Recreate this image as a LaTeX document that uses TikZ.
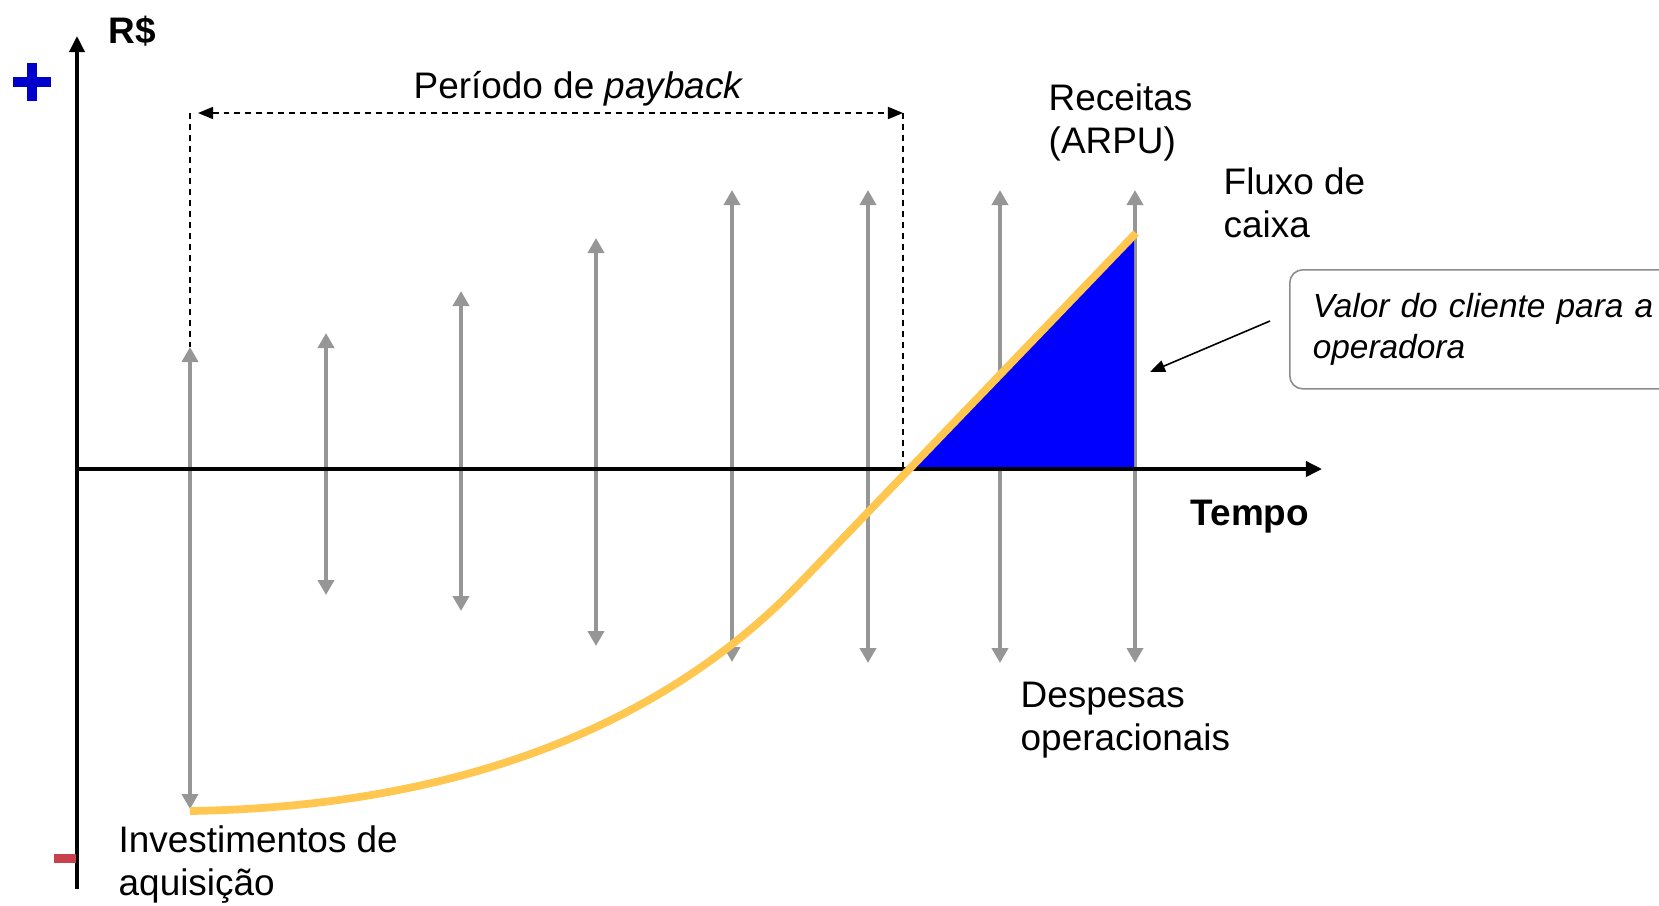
\documentclass[tikz,border=0pt]{standalone}
\usepackage{fontspec}
\setmainfont{Liberation Sans}
\usepackage{tikz}
\usetikzlibrary{arrows.meta}
\definecolor{flowgray}{RGB}{150,150,150}
\definecolor{cashyellow}{RGB}{255,198,80}
\definecolor{valueblue}{RGB}{0,0,255}
\definecolor{plusblue}{RGB}{0,0,204}
\definecolor{minusred}{RGB}{200,64,75}
\definecolor{boxgray}{RGB}{140,140,140}

\begin{document}
\begin{tikzpicture}[x=0.01cm, y=-0.01cm,
	font=\fontsize{10.5}{12.2}\selectfont,
	lbl/.style={anchor=base west, inner sep=0pt, align=left},
	lblbold/.style={lbl, font=\fontsize{10.5}{12.2}\selectfont\bfseries},
	flow/.style={draw=flowgray, line width=1.15pt, {Triangle[length=0.15cm,width=0.16cm]}-{Triangle[length=0.15cm,width=0.16cm]}},
	axis/.style={line width=1pt, -{Triangle[length=0.16cm,width=0.15cm]}},
	pay/.style={line width=0.45pt, dash pattern=on 1.7pt off 1.4pt},
	cash/.style={draw=cashyellow, line width=2.2pt, line join=round},
	ptr/.style={line width=0.45pt, -{Triangle[length=0.15cm,width=0.12cm]}}]
	\useasboundingbox (0,0) rectangle (1659,905);

	% payback period
	\coordinate (payL) at (190,113);
	\coordinate (payR) at (903,113);
	\coordinate (payRb) at (903,469);
	\coordinate (up1) at (190,347);
	\draw[pay] (payL) -- (up1);
	\draw[pay] (payR) -- (payRb);
	\draw[pay, {Triangle[length=0.15cm,width=0.12cm]}-{Triangle[length=0.15cm,width=0.12cm]}, shorten <=0.08cm] (payL) -- (payR);

	% receitas / despesas
	\coordinate (dn1) at (190,809);
	\draw[flow] (up1) -- (dn1);
	\coordinate (up2) at (326,333);
	\coordinate (dn2) at (326,595);
	\draw[flow] (up2) -- (dn2);
	\coordinate (up3) at (461,291);
	\coordinate (dn3) at (461,611);
	\draw[flow] (up3) -- (dn3);
	\coordinate (up4) at (596,238);
	\coordinate (dn4) at (596,646);
	\draw[flow] (up4) -- (dn4);
	\coordinate (up5) at (732,190);
	\coordinate (dn5) at (732,662);
	\draw[flow] (up5) -- (dn5);
	\coordinate (up6) at (868,190);
	\coordinate (dn6) at (868,663);
	\draw[flow] (up6) -- (dn6);
	\coordinate (up7) at (1000,190);
	\coordinate (dn7) at (1000,663);
	\draw[flow] (up7) -- (dn7);
	\coordinate (up8) at (1135,190);
	\coordinate (dn8) at (1135,663);
	\draw[flow] (up8) -- (dn8);

	% valor do cliente
	\coordinate (zero) at (910,469);
	\coordinate (peak) at (1136,233);
	\fill[valueblue] (zero) -- (1134,235) -- (1134,469) -- cycle;

	% eixos
	\coordinate (origin) at (77,469);
	\coordinate (ytop) at (77,36);
	\coordinate (ybot) at (77,889);
	\coordinate (xend) at (1322,469);
	\draw[axis] (ybot) -- (ytop);
	\draw[axis] (origin) -- (xend);

	% fluxo de caixa
	\coordinate (start) at (190,811);
	\coordinate (bend) at (800,583);
	\draw[cash] (start) .. controls (390,808) and (630,760) .. (bend) -- (peak);

	% sinais
	\fill[plusblue] (13,77) rectangle (51,87);
	\fill[plusblue] (27,63) rectangle (37,101);
	\fill[minusred] (54,854) rectangle (76,863);

	% textos
	\node[lblbold] (rs) at (108,43) {R\$};
	\node[lbl] (periodo) at (413,98) {Período de \textit{payback}};
	\node[lbl] (receitas) at (1048,153) {Receitas\\(ARPU)};
	\node[lbl] (fluxo) at (1223,237) {Fluxo de\\caixa};
	\node[lblbold] (tempo) at (1190,525) {Tempo};
	\node[lbl] (despesas) at (1020,750) {Despesas\\operacionais};
	\node[lbl] (invest) at (118,895) {Investimentos de\\aquisição};

	\begin{scope}
		\clip (0,0) rectangle (1659,905);
		\node[draw=boxgray, line width=0.45pt, rounded corners=0.13cm, anchor=north west,
			minimum width=4.4cm, minimum height=1.19cm, text width=3.94cm, inner xsep=0.23cm,
			inner ysep=0pt, align=left, font=\fontsize{9.5}{11.4}\selectfont\itshape]
			(valor) at (1289,269) {Valor do cliente para a\\operadora};
	\end{scope}
	\coordinate (vtail) at (1270,321);
	\coordinate (vtip) at (1150,372);
	\draw[ptr] (vtail) -- (vtip);
\end{tikzpicture}
\end{document}
